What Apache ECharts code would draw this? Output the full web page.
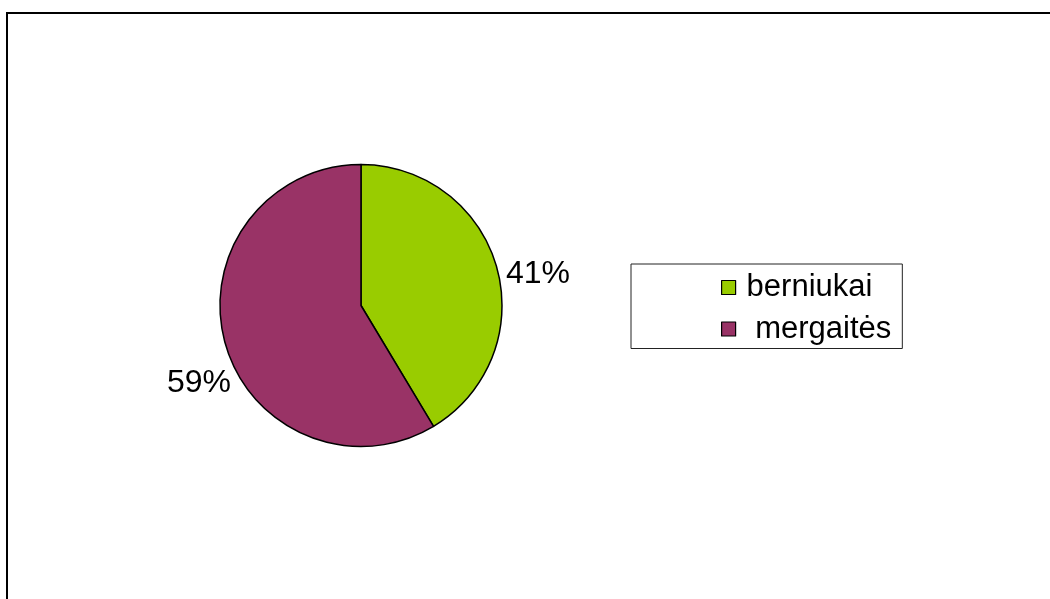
<!DOCTYPE html>
<html>
<head>
<meta charset="utf-8">
<script src="https://cdn.jsdelivr.net/npm/echarts@6/dist/echarts.min.js"></script>
<style>
html,body{margin:0;padding:0;background:#fff;}
#chart{width:1050px;height:599px;}
</style>
</head>
<body>
<div id="chart"></div>
<script>
const categories = ['berniukai', 'mergaitės'];
const values = [41.4, 58.6];
const colors = ['#99CC00', '#993366'];

const FONT = 'Arial, "Liberation Sans", sans-serif';
const labelOffsets = [[-5.5, 8.7], [20.5, 37.3]];

const chart = echarts.init(document.getElementById('chart'), null, {renderer: 'canvas'});
chart.setOption({
  animation: false,
  backgroundColor: '#ffffff',
  graphic: [{
    type: 'rect',
    shape: {x: 7, y: 13, width: 1200, height: 800},
    style: {fill: 'none', stroke: '#000', lineWidth: 2},
    silent: true,
    z: 100
  }],
  legend: {
    orient: 'vertical',
    left: 631,
    top: 264,
    padding: [8, 11, 4, 90],
    itemGap: 10.5,
    itemWidth: 14,
    itemHeight: 14,
    icon: 'rect',
    borderColor: '#222',
    borderWidth: 1,
    itemStyle: {borderColor: '#000', borderWidth: 1.2},
    textStyle: {fontFamily: FONT, fontSize: 31, color: '#000', padding: [0, 0, 0, 6]},
    formatter: function (name) { return name === categories[1] ? ' ' + name : name; },
    data: categories
  },
  series: [{
    type: 'pie',
    center: [361, 305.5],
    radius: 141,
    startAngle: 90,
    clockwise: true,
    percentPrecision: 0,
    silent: true,
    emphasis: {disabled: true},
    itemStyle: {borderColor: '#000', borderWidth: 1.5},
    label: {
      show: true,
      position: 'outside',
      formatter: '{d}%',
      fontFamily: FONT,
      fontSize: 32,
      color: '#000'
    },
    labelLine: {show: false, length: 10, length2: 0},
    labelLayout: function (params) {
      const o = labelOffsets[params.dataIndex];
      return {dx: o[0], dy: o[1]};
    },
    data: categories.map((c, i) => ({name: c, value: values[i], itemStyle: {color: colors[i]}}))
  }]
});
</script>
</body>
</html>
